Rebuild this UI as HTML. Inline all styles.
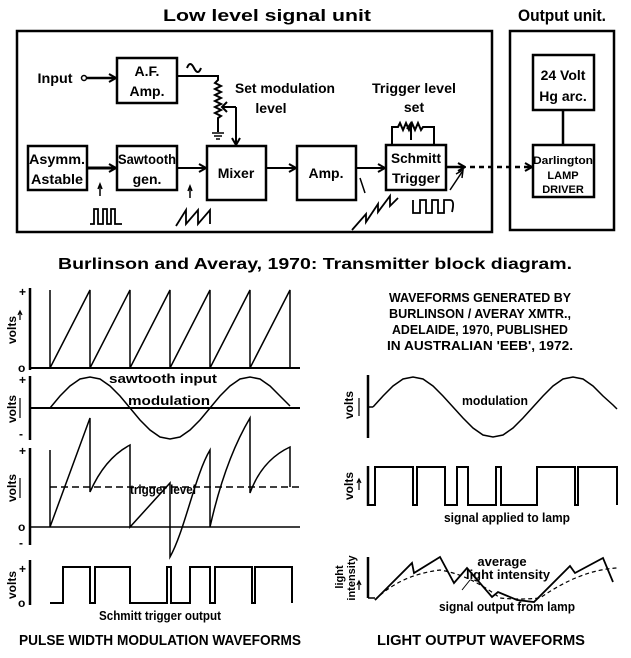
<!DOCTYPE html>
<html><head><meta charset="utf-8"><style>
html,body{margin:0;padding:0;background:#fff;}
svg{display:block;}
text{font-family:"Liberation Sans",sans-serif;font-weight:bold;fill:#000;}
</style></head><body>
<svg width="631" height="658" viewBox="0 0 631 658" xmlns="http://www.w3.org/2000/svg">
<defs>
<marker id="ah" markerWidth="10" markerHeight="10" refX="9" refY="5" orient="auto" markerUnits="userSpaceOnUse">
<path d="M2,1 L9,5 L2,9" fill="none" stroke="#000" stroke-width="2"/></marker>
</defs>
<g fill="none" stroke="#000">
<!-- outer boxes -->
<rect x="17" y="31" width="475" height="201" stroke-width="2.5"/>
<rect x="510" y="31" width="104" height="199" stroke-width="2.5"/>
<!-- blocks -->
<rect x="117" y="58" width="60" height="45" stroke-width="2.5"/>
<rect x="28" y="146" width="59" height="44" stroke-width="2.5"/>
<rect x="117" y="146" width="60" height="44" stroke-width="2.5"/>
<rect x="207" y="146" width="59" height="54" stroke-width="2.5"/>
<rect x="297" y="146" width="59" height="54" stroke-width="2.5"/>
<rect x="386" y="145" width="60" height="45" stroke-width="2.5"/>
<rect x="533" y="55" width="61" height="55" stroke-width="2.5"/>
<rect x="533" y="145" width="61" height="52" stroke-width="2.5"/>
<line x1="563" y1="110" x2="563" y2="145" stroke-width="2.5"/>
<!-- connectors -->
<circle cx="84" cy="78" r="2.5" stroke-width="1.5"/>
<line x1="87" y1="78" x2="116" y2="78" stroke-width="2.5" marker-end="url(#ah)"/>
<path d="M177,76 H218 V80 l-3,3 l6,3 l-6,3 l6,3 l-6,3 l6,3 l-6,3 l6,3 l-6,3 l6,3 l-6,3 l6,3 l-3,2 V132" stroke-width="2"/>
<path d="M212,133 H224 M214,136 H222 M216,139 H220" stroke-width="1.5"/>
<path d="M236,107 H222 M227,102 L222,107 L227,112" stroke-width="2"/>
<line x1="236" y1="107" x2="236" y2="145" stroke-width="2" marker-end="url(#ah)"/>
<path d="M187,68 q3,-8 7,0 t7,0" stroke-width="2"/>
<line x1="87" y1="168" x2="116" y2="168" stroke-width="3" marker-end="url(#ah)"/>
<line x1="177" y1="168" x2="206" y2="168" stroke-width="2" marker-end="url(#ah)"/>
<line x1="266" y1="168" x2="296" y2="168" stroke-width="2" marker-end="url(#ah)"/>
<line x1="356" y1="168" x2="385" y2="168" stroke-width="2" marker-end="url(#ah)"/>
<line x1="446" y1="167" x2="465" y2="167" stroke-width="2.5" marker-end="url(#ah)"/>
<line x1="470" y1="167" x2="524" y2="167" stroke-width="2.5" stroke-dasharray="5,4"/>
<line x1="524" y1="167" x2="532" y2="167" stroke-width="2.5" marker-end="url(#ah)"/>
<!-- trigger resistor -->
<path d="M392,145 V127 H398 l2,-4 l3,7 l3,-7 l3,7 l3,-7 l3,7 l3,-7 l3,7 l2,-3 H434 V145" stroke-width="2"/>
<path d="M411,140 V124 M407,129 L411,123 L415,129" stroke-width="2"/>
<!-- small waveforms / pointers -->
<path d="M100,196 V186" stroke-width="1.5"/><path d="M98,189 L100,184 L102,189" stroke-width="1.5"/>
<path d="M90,224 H94 V209 H98 V224 H103 V209 H107 V224 H111 V209 H115 V224 H122" stroke-width="1.8"/>
<path d="M190,198 V188" stroke-width="1.5"/><path d="M188,191 L190,186 L192,191" stroke-width="1.5"/>
<path d="M176,226 L186,210 V224 L198,210 V224 L210,210 V224" stroke-width="1.8"/>
<path d="M365,193 L360,178" stroke-width="1.5"/>
<path d="M352,230 L366,214 V222 L378,204 V212 L390,196 V206 L398,198" stroke-width="1.8"/>
<path d="M413,200 V213 H420 V200 H426 V213 H432 V200 H438 V213 H444 V200 H450 Q455,200 452,212" stroke-width="1.8"/>
<path d="M450,190 L462,172" stroke-width="1.5"/><path d="M456,174 L463,170 L462,178" stroke-width="1.5"/>

<!-- PWM graphs -->
<g stroke-width="2.5">
<line x1="30" y1="288" x2="30" y2="370"/>
<line x1="30" y1="376" x2="30" y2="440"/>
<line x1="30" y1="448" x2="30" y2="545"/>
<line x1="30" y1="560" x2="30" y2="605"/>
<line x1="368" y1="375" x2="368" y2="438"/>
<line x1="368" y1="466" x2="368" y2="506"/>
<line x1="368" y1="557" x2="368" y2="598"/>
</g>
<g stroke-width="1.5">
<line x1="30" y1="368" x2="300" y2="368" stroke-width="2"/>
<path d="M50,290 V368 L90,290 V368 L130,290 V368 L170,290 V368 L210,290 V368 L250,290 V368 L290,290 V368"/>
<line x1="30" y1="408" x2="300" y2="408" stroke-width="2"/>
<polyline points="50,408 60,396 70,386 80,379 90,377 100,379 110,386 120,396 130,408 140,420 150,430 160,437 170,439 180,437 190,430 200,420 210,408 220,396 230,386 240,379 250,377 260,379 270,386 280,396 290,406"/>
<line x1="30" y1="527" x2="300" y2="527"/>
<line x1="50" y1="487" x2="300" y2="487" stroke-dasharray="7,4"/>
<path d="M50,450 V527 L90,418 V492 Q105,458 130,445 V527 Q150,505 170,483 V557 C185,530 195,475 210,450 V527 Q225,460 250,418 V493 Q262,460 290,447 V487"/>
<path d="M50,603 V603 H63 V567 H90 V603 H95 V567 H130 V603 H167 V567 H171 V603 H190 V567 H210 V603 H215 V567 H252 V603 H255 V567 H292 V603" stroke-width="2"/>
<!-- right graphs -->
<line x1="368" y1="407" x2="373" y2="407"/>
<polyline points="373,407 383,396 393,386 403,379 413,377 423,379 433,386 443,396 453,407 463,418 473,428 483,435 493,437 503,435 513,428 523,418 533,407 543,396 553,386 563,379 573,377 583,379 593,386 603,396 613,405 617,409"/>
<path d="M368,505 H375 V467 H413 V505 H417 V467 H445 V505 H457 V467 H468 V505 H496 V467 H501 V505 H537 V467 H575 V505 H578 V467 H617 V505" stroke-width="2"/>
<line x1="368" y1="598" x2="375" y2="598"/>
<polyline points="375,600 412,563 414,573 440,557 454,583 467,568 492,597 498,592 517,600 534,602 570,566 575,573 603,558 613,582" stroke-width="1.8"/>
<path d="M375,600 Q400,575 440,570 Q470,575 500,598 Q520,600 540,598 Q580,570 617,568" stroke-dasharray="4,3" stroke-width="1.2"/>
<line x1="470" y1="580" x2="462" y2="590" stroke-width="1"/>
</g>
</g>

<!-- text -->
<text x="163" y="21" font-size="17" textLength="208" lengthAdjust="spacingAndGlyphs">Low level signal unit</text>
<text x="518" y="21" font-size="17" textLength="88" lengthAdjust="spacingAndGlyphs">Output unit.</text>
<g font-size="14" text-anchor="middle">
<text x="55" y="83" textLength="35" lengthAdjust="spacingAndGlyphs">Input</text>
<text x="147" y="76">A.F.</text>
<text x="147" y="96">Amp.</text>
<text x="57" y="164" textLength="56" lengthAdjust="spacingAndGlyphs">Asymm.</text>
<text x="57" y="184" textLength="52" lengthAdjust="spacingAndGlyphs">Astable</text>
<text x="147" y="164" textLength="58" lengthAdjust="spacingAndGlyphs">Sawtooth</text>
<text x="147" y="184">gen.</text>
<text x="236" y="178">Mixer</text>
<text x="326" y="178">Amp.</text>
<text x="416" y="163" textLength="50" lengthAdjust="spacingAndGlyphs">Schmitt</text>
<text x="416" y="183" textLength="48" lengthAdjust="spacingAndGlyphs">Trigger</text>
<text x="285" y="93" textLength="100" lengthAdjust="spacingAndGlyphs">Set modulation</text>
<text x="271" y="113">level</text>
<text x="414" y="93" textLength="84" lengthAdjust="spacingAndGlyphs">Trigger level</text>
<text x="414" y="112">set</text>
<text x="563" y="80">24 Volt</text>
<text x="563" y="101">Hg arc.</text>
</g>
<g font-size="11" text-anchor="middle">
<text x="563" y="164" textLength="60" lengthAdjust="spacingAndGlyphs">Darlington</text>
<text x="563" y="179">LAMP</text>
<text x="563" y="193">DRIVER</text>
</g>
<text x="315" y="269" font-size="16" text-anchor="middle" textLength="514" lengthAdjust="spacingAndGlyphs">Burlinson and Averay, 1970: Transmitter block diagram.</text>
<g font-size="13" text-anchor="middle">
<text x="480" y="302" textLength="182" lengthAdjust="spacingAndGlyphs">WAVEFORMS GENERATED BY</text>
<text x="480" y="318" textLength="182" lengthAdjust="spacingAndGlyphs">BURLINSON / AVERAY XMTR.,</text>
<text x="480" y="334" textLength="176" lengthAdjust="spacingAndGlyphs">ADELAIDE, 1970, PUBLISHED</text>
<text x="480" y="350" textLength="186" lengthAdjust="spacingAndGlyphs">IN AUSTRALIAN 'EEB', 1972.</text>
</g>
<g font-size="13" text-anchor="middle" font-weight="normal">
<text x="163" y="383" textLength="108" lengthAdjust="spacingAndGlyphs">sawtooth input</text>
<text x="169" y="405" textLength="82" lengthAdjust="spacingAndGlyphs">modulation</text>
<text x="163" y="494" textLength="66" lengthAdjust="spacingAndGlyphs">trigger level</text>
<text x="160" y="620" textLength="122" lengthAdjust="spacingAndGlyphs">Schmitt trigger output</text>
<text x="495" y="405" textLength="66" lengthAdjust="spacingAndGlyphs">modulation</text>
<text x="507" y="522" textLength="126" lengthAdjust="spacingAndGlyphs">signal applied to lamp</text>
<text x="502" y="566">average</text>
<text x="508" y="579" textLength="84" lengthAdjust="spacingAndGlyphs">light intensity</text>
<text x="507" y="611" textLength="136" lengthAdjust="spacingAndGlyphs">signal output from lamp</text>
</g>
<text x="160" y="645" font-size="15" text-anchor="middle" textLength="282" lengthAdjust="spacingAndGlyphs">PULSE WIDTH MODULATION WAVEFORMS</text>
<text x="481" y="645" font-size="15" text-anchor="middle" textLength="208" lengthAdjust="spacingAndGlyphs">LIGHT OUTPUT WAVEFORMS</text>
<!-- axis labels -->
<g font-size="12">
<text transform="translate(16,330) rotate(-90)" text-anchor="middle">volts</text>
<text transform="translate(16,409) rotate(-90)" text-anchor="middle">volts</text>
<text transform="translate(16,488) rotate(-90)" text-anchor="middle">volts</text>
<text transform="translate(16,585) rotate(-90)" text-anchor="middle">volts</text>
<text transform="translate(353,405) rotate(-90)" text-anchor="middle">volts</text>
<text transform="translate(353,486) rotate(-90)" text-anchor="middle">volts</text>
<text transform="translate(343,577) rotate(-90)" text-anchor="middle" font-size="11">light</text>
<text transform="translate(355,578) rotate(-90)" text-anchor="middle" font-size="11">intensity</text>
<text x="19" y="296">+</text><text x="18" y="372">o</text>
<text x="19" y="384">+</text><text x="19" y="438">-</text>
<text x="19" y="455">+</text><text x="18" y="531">o</text><text x="19" y="547">-</text>
<text x="19" y="573">+</text><text x="18" y="607">o</text>
</g>
<g stroke="#000" stroke-width="1.2" fill="none">
<path d="M20,320 V312 M18,315 L20,311 L22,315"/>
<path d="M20,398 V418"/>
<path d="M20,478 V498"/>
<path d="M359,398 V416"/>
<path d="M359,480 V490 M357,483 L359,479 L361,483"/>
<path d="M359,590 V582 M357,585 L359,581 L361,585"/>
</g>
</svg>
</body></html>
